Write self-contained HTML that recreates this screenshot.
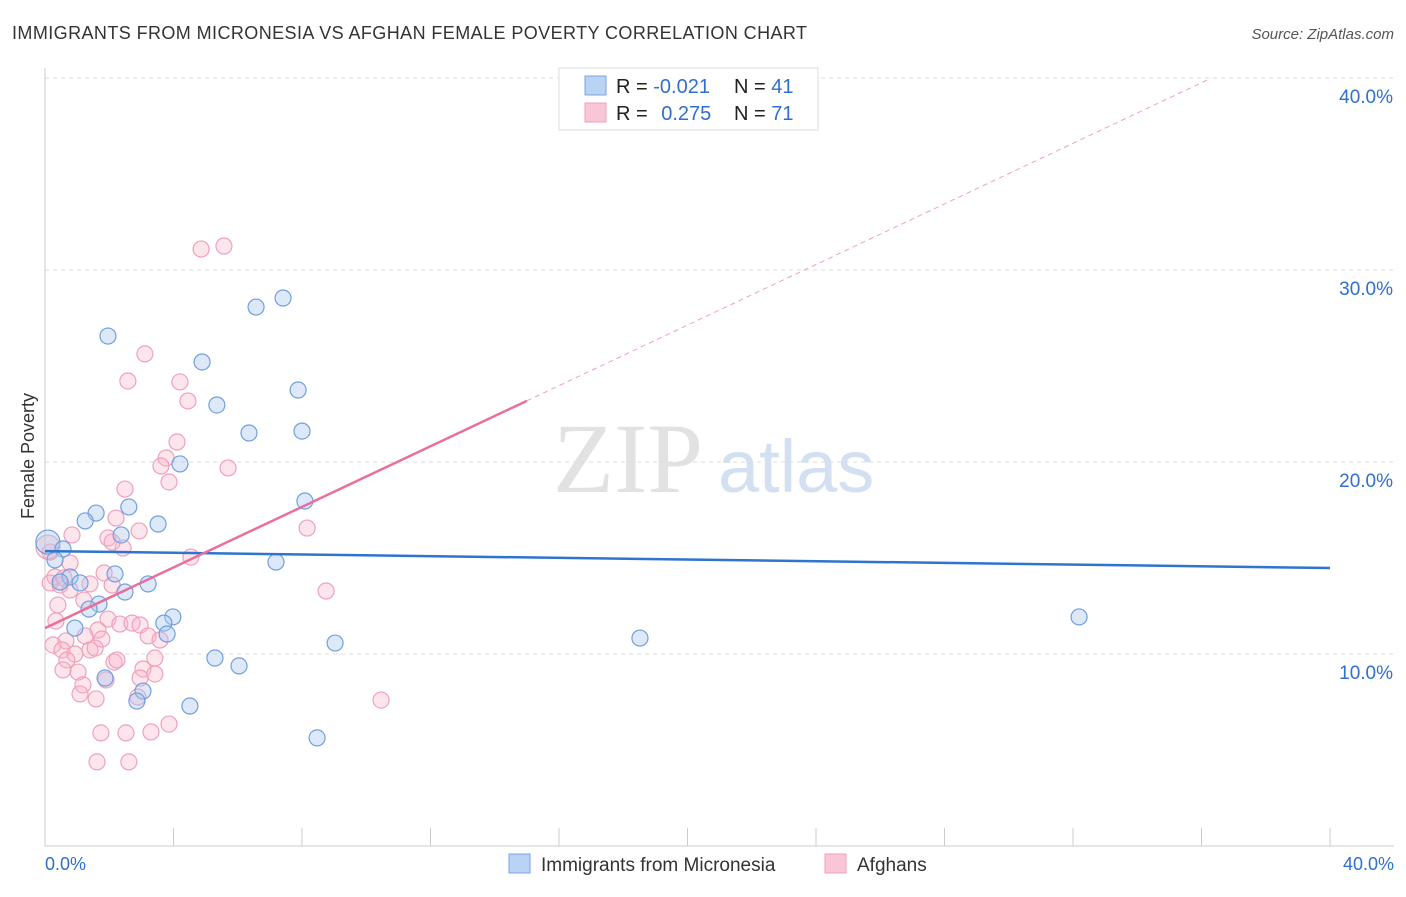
<!DOCTYPE html>
<html><head><meta charset="utf-8"><style>
body{margin:0;background:#fff;font-family:"Liberation Sans",sans-serif;}
</style></head><body>
<svg id="chart" width="1406" height="892" xmlns="http://www.w3.org/2000/svg" font-family="Liberation Sans, sans-serif">
<text x="12" y="39" font-size="18" fill="#333" textLength="795">IMMIGRANTS FROM MICRONESIA VS AFGHAN FEMALE POVERTY CORRELATION CHART</text>
<text x="1394" y="39" font-size="15" fill="#555" font-style="italic" text-anchor="end">Source: ZipAtlas.com</text>
<text x="34" y="456" font-size="18" fill="#333" text-anchor="middle" transform="rotate(-90 34 456)">Female Poverty</text>
<text x="553" y="492" font-size="100" fill="#e2e2e2" font-family="Liberation Serif, serif">ZIP</text>
<text x="718" y="492" font-size="74" fill="#d3e0f2">atlas</text>
<g id="grid"></g><g id="pts"></g><g id="lines"></g>
<g>
<rect x="559" y="68" width="259" height="62" fill="#fff" stroke="#ddd"/>
<rect x="585" y="76" width="21" height="19" fill="#b9d3f5" stroke="#7aa6e0"/>
<rect x="585" y="103" width="21" height="19" fill="#f9c6d6" stroke="#f0a0bb"/>
<text x="616" y="93" font-size="20" fill="#222">R = <tspan fill="#2f6fd0">-0.021</tspan></text>
<text x="734" y="93" font-size="20" fill="#222">N = <tspan fill="#2f6fd0">41</tspan></text>
<text x="616" y="120" font-size="20" fill="#222">R = <tspan fill="#2f6fd0" dx="8">0.275</tspan></text>
<text x="734" y="120" font-size="20" fill="#222">N = <tspan fill="#2f6fd0">71</tspan></text>
</g>
<g>
<rect x="509" y="854" width="21" height="19" fill="#b9d3f5" stroke="#7aa6e0"/>
<text x="541" y="871" font-size="19" fill="#333">Immigrants from Micronesia</text>
<rect x="825" y="854" width="21" height="19" fill="#f9c6d6" stroke="#f0a0bb"/>
<text x="857" y="871" font-size="19" fill="#333">Afghans</text>
</g>
<text x="45" y="870" font-size="18" fill="#2f6fd0">0.0%</text>
<text x="1394" y="870" font-size="18" fill="#2f6fd0" text-anchor="end">40.0%</text>
</svg>
<script>
const blueX=[1.96,6.57,7.41,4.89,7.88,5.35,6.35,8.00,4.20,8.09,1.59,2.61,1.25,3.52,2.37,0.09,0.56,7.19,2.18,0.78,1.09,3.21,2.49,1.68,1.37,3.98,3.70,0.93,3.80,9.03,18.52,32.19,5.29,6.04,1.87,3.05,2.86,4.51,8.47,0.31,0.47];
const blueY=[26.56,28.07,28.54,25.21,23.75,22.97,21.51,21.61,19.90,17.97,17.34,17.66,16.93,16.77,16.20,15.83,15.47,14.79,14.17,14.01,13.70,13.65,13.23,12.60,12.34,11.93,11.61,11.35,11.04,10.57,10.83,11.93,9.79,9.38,8.75,8.07,7.55,7.29,5.63,14.90,13.75];
const pinkX=[4.86,5.57,3.11,2.58,4.20,4.45,4.11,3.77,5.70,3.61,3.86,2.49,2.21,2.93,0.84,1.96,2.43,4.54,8.16,0.78,0.31,0.16,1.84,1.40,2.09,0.47,8.75,0.40,1.96,2.33,2.71,0.34,1.65,2.96,1.25,0.65,3.21,1.77,0.25,3.58,1.40,0.53,1.56,0.93,0.68,2.15,2.24,3.42,3.05,0.56,1.03,3.42,2.96,1.18,1.90,1.09,1.59,2.89,10.46,3.86,1.74,2.52,3.30,1.62,2.61,0.16,0.09,0.59,0.78,2.09,1.21];
const pinkY=[31.09,31.25,25.63,24.22,24.17,23.18,21.04,20.21,19.69,19.79,18.96,18.59,17.08,16.41,16.20,16.04,15.52,15.05,16.56,14.74,14.01,13.70,14.22,13.65,13.59,13.59,13.28,12.55,11.82,11.56,11.61,11.72,11.25,11.51,10.94,10.68,10.94,10.78,10.47,10.73,10.21,10.21,10.31,10.00,9.69,9.58,9.69,9.79,9.22,9.17,9.06,8.96,8.75,8.39,8.65,7.92,7.66,7.76,7.60,6.35,5.89,5.89,5.94,4.38,4.38,15.31,15.57,13.96,13.33,15.83,12.81];
const yTicks=[10,20,30,40];
const yTickLabels=["10.0%","20.0%","30.0%","40.0%"];
const xTicks=[0,4,8,12,16,20,24,28,32,36,40];
const blueFit=[15.36,14.48];
const pinkFit=[11.35,0.789];
const X=v=>45+v*32.125, Y=v=>846-v*19.2;
const NS="http://www.w3.org/2000/svg";
function mk(t,a,p){const e=document.createElementNS(NS,t);for(const k in a)e.setAttribute(k,a[k]);p.appendChild(e);return e;}
const grid=document.getElementById('grid'),pts=document.getElementById('pts'),lines=document.getElementById('lines');
yTicks.forEach((v,i)=>{
 const l=mk('line',{x1:45,x2:1394,y1:Y(v),y2:Y(v),stroke:'#ddd','stroke-dasharray':'4,4'},grid);
 
 
 const t=mk('text',{x:1393,y:Y(v)+25,'font-size':19,fill:'#2f6fd0','text-anchor':'end'},grid);t.textContent=yTickLabels[i];
 
 
});
const ax=mk('line',{x1:45,x2:45,y1:68,y2:846,stroke:'#ccc'},grid);


const bx=mk('line',{x1:45,x2:1394,y1:846,y2:846,stroke:'#ccc'},grid);


xTicks.forEach(v=>{const t=mk('line',{x1:X(v),x2:X(v),y1:828,y2:846,stroke:'#ccc'},grid);
 
 });
function dots(xs,ys,fill,stroke,name){xs.forEach((x,i)=>{
 const c=mk('circle',{cx:X(x),cy:Y(ys[i]),r:(x<0.12?12:8),fill:fill,stroke:stroke,'stroke-width':1.2},pts);
 
 });}
dots(pinkX,pinkY,'rgba(248,180,200,0.35)','#f0a0bb','afghan-point');
dots(blueX,blueY,'rgba(170,200,240,0.4)','#6f9fe0','micronesia-point');
const bl=mk('line',{x1:X(0),y1:Y(blueFit[0]),x2:X(40),y2:Y(blueFit[1]),stroke:'#2f74d0','stroke-width':2.5},lines);


const pe=36.3;
const pd=mk('line',{x1:X(15),y1:Y(pinkFit[0]+pinkFit[1]*15),x2:X(pe),y2:Y(pinkFit[0]+pinkFit[1]*pe),stroke:'#f0a0bb','stroke-width':1,'stroke-dasharray':'5,4'},lines);


const pl=mk('line',{x1:X(0),y1:Y(pinkFit[0]),x2:X(15),y2:Y(pinkFit[0]+pinkFit[1]*15),stroke:'#e8709a','stroke-width':2.5},lines);


</script>
</body></html>
